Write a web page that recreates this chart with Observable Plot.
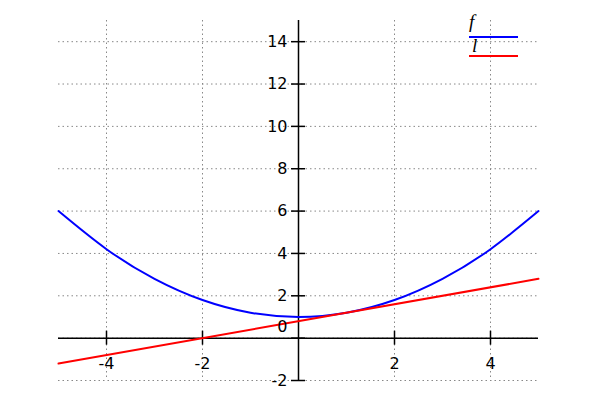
<!DOCTYPE html>
<html>
<head>
<meta charset="utf-8">
<script src="https://cdn.jsdelivr.net/npm/d3@7"></script>
<script src="https://cdn.jsdelivr.net/npm/@observablehq/plot@0.6"></script>
<style>
  html, body { margin: 0; padding: 0; background: white; }
  #wrap { position: relative; width: 600px; height: 400px; }
  .leg { position: absolute; font-family: "Liberation Serif", "DejaVu Serif", serif; font-style: italic; font-size: 19px; line-height: 16px; height: 16px; }
  .legline { position: absolute; height: 2px; }
</style>
</head>
<body>
<div id="wrap"></div>
<script>
// Data
const xs    = [-5, -4, -3, -2, -1, 0, 1, 2, 3, 4, 5];
const fVals = [6, 4.2, 2.8, 1.8, 1.2, 1, 1.2, 1.8, 2.8, 4.2, 6];
const lXs   = [-5, 5];
const lVals = [-1.2, 2.8];
const xTicks = [-4, -2, 2, 4];
const yTicks = [-2, 0, 2, 4, 6, 8, 10, 12, 14];
const seriesNames = ["f", "l"];
const seriesColors = ["#0000ff", "#ff0000"];

const fData = xs.map((x, i) => ({x, y: fVals[i]}));
const lData = lXs.map((x, i) => ({x, y: lVals[i]}));

const gridStyle = {stroke: "#888", strokeDasharray: "1.5,3", strokeWidth: 1};
const txt = {fill: "black", fontSize: 16, fontFamily: "DejaVu Sans"};

const chart = Plot.plot({
  width: 600,
  height: 400,
  marginLeft: 58,
  marginRight: 62,
  marginTop: 20,
  marginBottom: 20,
  x: {domain: [-5, 5], axis: null},
  y: {domain: [-2, 15], axis: null},
  style: {fontFamily: "DejaVu Sans, sans-serif", fontSize: "16px", background: "white", color: "black"},
  marks: [
    Plot.ruleX(xTicks, {x: d => d, ...gridStyle}),
    Plot.ruleY(yTicks, {y: d => d, ...gridStyle}),
    Plot.ruleY([0], {y: d => d, stroke: "black", strokeWidth: 1.5}),
    Plot.ruleX([0], {x: d => d, stroke: "black", strokeWidth: 1.5}),
    Plot.ruleX(xTicks, {x: d => d, y1: -0.33, y2: 0.33, stroke: "black", strokeWidth: 1.5}),
    Plot.ruleY(yTicks, {y: d => d, x1: -0.146, x2: 0.146, stroke: "black", strokeWidth: 1.5}),
    Plot.line(fData, {x: "x", y: "y", stroke: seriesColors[0], strokeWidth: 2, curve: "natural"}),
    Plot.line(lData, {x: "x", y: "y", stroke: seriesColors[1], strokeWidth: 2}),
    Plot.text(xTicks, {x: d => d, y: 0, dy: 26, text: d => String(d), ...txt}),
    Plot.text(yTicks.filter(d => d !== 0), {x: 0, y: d => d, dx: -11, textAnchor: "end", text: d => String(d), ...txt}),
    Plot.text(yTicks.filter(d => d === 0), {x: 0, y: d => d, dx: -11, dy: -11, textAnchor: "end", text: d => String(d), ...txt})
  ]
});

const wrap = document.getElementById("wrap");
wrap.appendChild(chart);

// Legend
const legTop = [14, 38];
const lineTop = [36, 55];
seriesNames.forEach((name, i) => {
  const t = document.createElement("div");
  t.className = "leg";
  t.textContent = name;
  t.style.left = (i === 0 ? 469 : 472) + "px";
  t.style.top = legTop[i] + "px";
  wrap.appendChild(t);
  const ln = document.createElement("div");
  ln.className = "legline";
  ln.style.left = "469px";
  ln.style.width = "49px";
  ln.style.top = lineTop[i] + "px";
  ln.style.background = seriesColors[i];
  wrap.appendChild(ln);
});
</script>
</body>
</html>
